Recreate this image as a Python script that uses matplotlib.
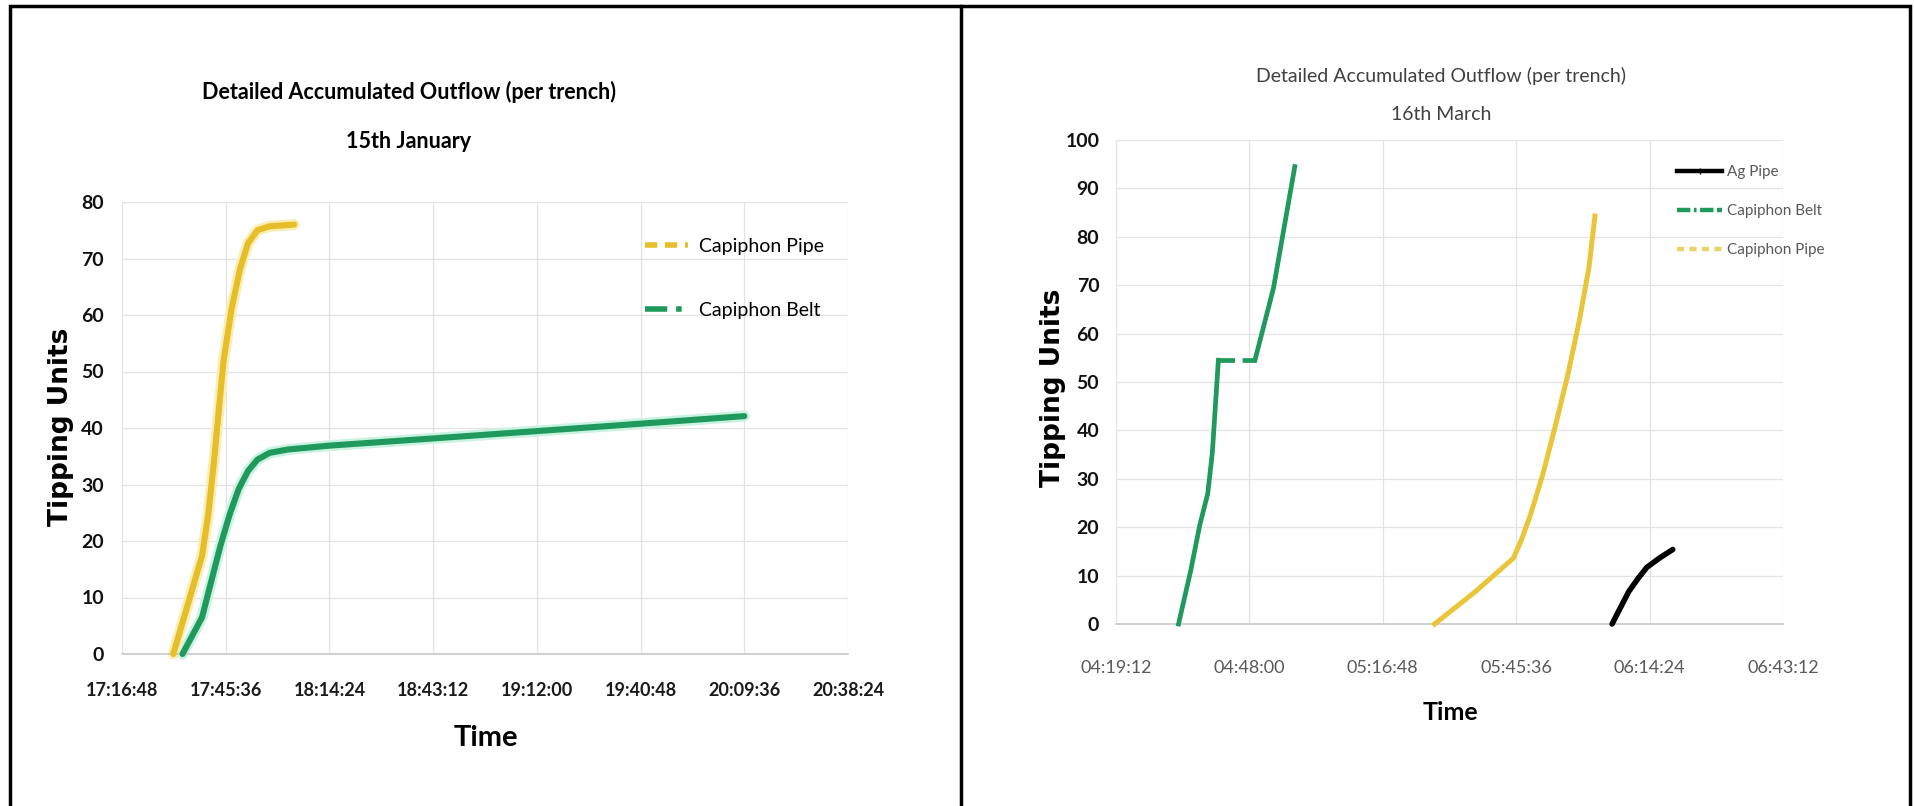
import matplotlib
matplotlib.use("Agg")
import matplotlib.pyplot as plt
import numpy as np
from matplotlib.lines import Line2D
from matplotlib.patches import Rectangle

# --- data (times as clock strings, values in tipping units) ---
# 15th January
pipe_jan_t = ["17:31:03", "17:39:02", "17:40:45", "17:42:17", "17:43:38", "17:45:00",
              "17:47:12", "17:49:36", "17:51:48", "17:54:24", "17:57:48", "18:04:36"]
pipe_jan_v = [0, 17.4, 24.7, 33.7, 42.8, 51.9, 61, 68.2, 72.7, 75, 75.7, 76]

belt_jan_t = ["17:33:36", "17:39:02", "17:41:36", "17:44:09", "17:46:42", "17:49:12",
              "17:51:48", "17:54:24", "17:57:48", "18:02:54", "18:14:48", "18:42:00",
              "19:33:00", "20:09:36"]
belt_jan_v = [0, 6.5, 12.9, 19.2, 24.7, 29.2, 32.4, 34.4, 35.6, 36.2, 36.9, 38.1,
              40.4, 42.1]

# 16th March
ag_mar_t = ["06:06:18", "06:07:54", "06:09:54", "06:11:54", "06:13:48", "06:16:30", "06:19:24"]
ag_mar_v = [0, 3, 6.7, 9.4, 11.7, 13.6, 15.4]

belt_mar_t = ["04:32:42", "04:35:18", "04:37:18", "04:39:00", "04:40:00", "04:41:18",
              "04:49:12", "04:53:12", "04:57:48"]
belt_mar_v = [0, 10.9, 20.5, 26.9, 35.4, 54.5, 54.5, 69.4, 94.5]
belt_mar_gap = 6  # first point after the logger gap

pipe_mar_t = ["05:27:58", "05:36:48", "05:45:00", "05:46:42", "05:48:42", "05:51:24",
              "05:54:00", "05:56:42", "05:59:18", "06:01:18", "06:02:36"]
pipe_mar_v = [0, 6.7, 13.6, 17.3, 22.6, 31.1, 40.7, 51.3, 63, 73.6, 84.3]

YELLOW = "#E5BE2A"
YELLOW_GLOW = "#F9EFB4"
GREEN = "#1F9A5C"
GREEN_GLOW = "#C9F3E0"
FONT = ["Lato", "DejaVu Sans"]


def frac(t):
    h, m, s = [int(p) for p in t.split(":")]
    return (h * 3600 + m * 60 + s) / 86400.0


def clock(x):
    secs = int(round(x * 86400))
    return "%02d:%02d:%02d" % (secs // 3600, secs % 3600 // 60, secs % 60)


def glow_line(ax, xs, ys, color, glow, lw, glw):
    ax.plot(xs, ys, color=glow, lw=glw, solid_capstyle="round", clip_on=False, zorder=2)
    ax.plot(xs, ys, color=color, lw=lw, solid_capstyle="round", clip_on=False, zorder=3)


def style_axes(ax, x0, x1, ymax, tick_color, tick_weight, ysize, xsize, xpad, ypad):
    xt = np.arange(frac(x0), frac(x1) + 0.001, 0.02)
    ax.set_xticks(xt, labels=[clock(v) for v in xt], family=FONT, fontweight=tick_weight,
                  fontsize=xsize, color=tick_color)
    yt = np.arange(0, ymax + 1, 10)
    ax.set_yticks(yt, labels=[str(v) for v in yt], family=FONT, fontweight="bold",
                  fontsize=ysize, color="#111111")
    ax.set_xlim(frac(x0), frac(x1))
    ax.set_ylim(0, ymax)
    ax.grid(True, color="#E3E3E3", lw=0.9)
    ax.set_axisbelow(True)
    for side in ["top", "right", "left"]:
        ax.spines[side].set_visible(False)
    ax.spines["bottom"].set_color("#C8C8C8")
    ax.spines["bottom"].set_linewidth(1.2)
    ax.tick_params(length=0)
    ax.tick_params(axis="x", pad=xpad)
    ax.tick_params(axis="y", pad=ypad)


fig = plt.figure(figsize=(19.15, 8.06), dpi=100)
W, H = 1915.0, 806.0

# outer frame and divider
fig.add_artist(Rectangle((10 / W, -0.05), 1900 / W, 1.05 - 6 / H, transform=fig.transFigure,
                         fill=False, ec="black", lw=2.5))
fig.add_artist(Line2D([961 / W, 961 / W], [0, 1 - 6 / H], transform=fig.transFigure,
                      color="black", lw=2.5))

# ---------------- left chart: 15th January ----------------
ax1 = fig.add_axes([122 / W, 1 - 654 / H, 726 / W, 452 / H])
glow_line(ax1, [frac(t) for t in belt_jan_t], belt_jan_v, GREEN, GREEN_GLOW, 4.4, 8)
glow_line(ax1, [frac(t) for t in pipe_jan_t], pipe_jan_v, YELLOW, YELLOW_GLOW, 4.4, 8)
style_axes(ax1, "17:16:48", "20:38:24", 80, "#1A1A1A", "bold", 14, 13, 20, 13)

fig.text(486 / W, 1 - 738 / H, "Time", family=FONT, fontsize=21, fontweight="bold",
         ha="center", va="center")
fig.text(61 / W, 1 - 427 / H, "Tipping Units", family="DejaVu Sans", fontsize=19,
         fontweight="bold", rotation=90, ha="center", va="center")
fig.text(409 / W, 1 - 92 / H, "Detailed Accumulated Outflow (per trench)", family=FONT,
         fontsize=15.5, fontweight="bold", ha="center", va="center")
fig.text(409 / W, 1 - 142 / H, "15th January", family=FONT,
         fontsize=15.5, fontweight="bold", ha="center", va="center")

h_pipe = Line2D([], [], color=YELLOW, lw=4, dashes=(2.2, 1.4))
h_belt = Line2D([], [], color=GREEN, lw=4, dashes=(4, 1.6, 1, 1.6))
fig.legend([h_pipe, h_belt], ["Capiphon Pipe", "Capiphon Belt"], loc="upper left",
           bbox_to_anchor=(645 / W, 1 - 238 / H), bbox_transform=fig.transFigure,
           frameon=False, borderpad=0, borderaxespad=0, handlelength=2.2,
           handletextpad=0.6, labelspacing=2.4,
           prop={"family": FONT, "size": 14})

# ---------------- right chart: 16th March ----------------
ax2 = fig.add_axes([1116 / W, 1 - 624 / H, 667 / W, 484 / H])
bx = [frac(t) for t in belt_mar_t]
g = belt_mar_gap
ax2.plot(bx[:g], belt_mar_v[:g], color=GREEN, lw=3.4, clip_on=False, zorder=3)
ax2.plot(bx[g:], belt_mar_v[g:], color=GREEN, lw=3.4, clip_on=False, zorder=3)
ax2.plot(bx[g - 1:g + 1], belt_mar_v[g - 1:g + 1], color=GREEN, lw=3.4,
         dashes=(3.5, 1.6), zorder=3)
ax2.plot([frac(t) for t in pipe_mar_t], pipe_mar_v, color="#E9C53A", lw=3.6,
         clip_on=False, zorder=3)
ax2.plot([frac(t) for t in ag_mar_t], ag_mar_v, color="black", lw=4,
         solid_capstyle="round", clip_on=False, zorder=3)
style_axes(ax2, "04:19:12", "06:43:12", 100, "#595959", "normal", 14, 13, 26, 12)

fig.text(1450 / W, 1 - 712 / H, "Time", family=FONT, fontsize=18, fontweight="bold",
         ha="center", va="center")
fig.text(1053 / W, 1 - 388 / H, "Tipping Units", family="DejaVu Sans", fontsize=19,
         fontweight="bold", rotation=90, ha="center", va="center")
fig.text(1441 / W, 1 - 76 / H, "Detailed Accumulated Outflow (per trench)", family=FONT,
         fontsize=14, color="#404040", ha="center", va="center")
fig.text(1441 / W, 1 - 114 / H, "16th March", family=FONT,
         fontsize=14, color="#404040", ha="center", va="center")

h_ag = Line2D([], [], color="black", lw=3.2, marker="+", markersize=5)
h_belt2 = Line2D([], [], color=GREEN, lw=3.2, dashes=(3, 0.8, 0.6, 0.8, 3, 0.8))
h_pipe2 = Line2D([], [], color="#E9D36A", lw=3.2, dashes=(1.6, 1.2))
fig.legend([h_ag, h_belt2, h_pipe2], ["Ag Pipe", "Capiphon Belt", "Capiphon Pipe"],
           loc="upper left", bbox_to_anchor=(1677 / W, 1 - 165 / H),
           bbox_transform=fig.transFigure, frameon=False, borderpad=0, borderaxespad=0,
           handlelength=2.95, handletextpad=0.33, labelspacing=1.64,
           prop={"family": FONT, "size": 11}, labelcolor="#595959")

fig.savefig("out.png", dpi=100, facecolor="white")
